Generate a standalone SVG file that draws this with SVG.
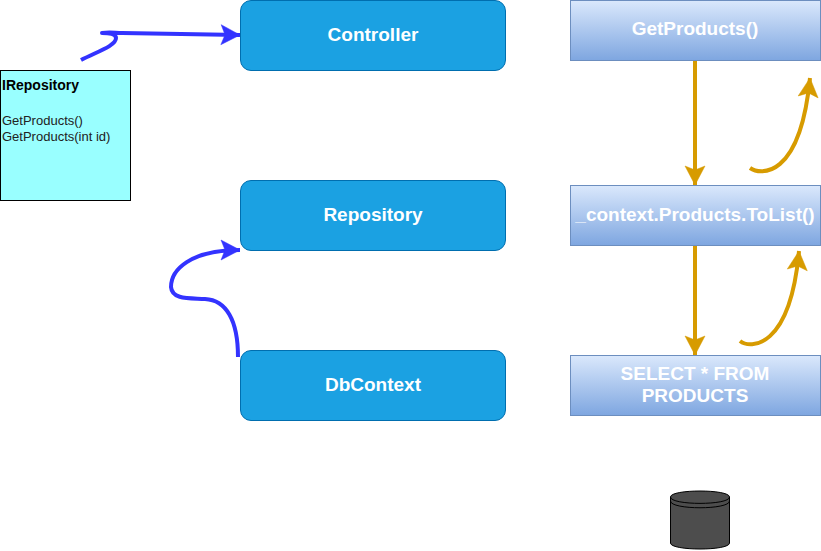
<svg xmlns="http://www.w3.org/2000/svg" width="821" height="551" viewBox="0 0 821 551">
<style>
text{font-family:"Liberation Sans",Arial,sans-serif}
.blue{fill:#1ba1e2;stroke:#006eaf}
.grad{fill:url(#g);stroke:#6c8ebf}
.w{fill:#fff;font-weight:bold;font-size:19px;text-anchor:middle}
.t{font-size:13px;fill:#222}
.con{fill:none;stroke-width:4;stroke-linejoin:round}
.b{stroke:#3333ff}
.o{stroke:#d79b00}
</style>
<defs>
<linearGradient id="g" x1="0" y1="0" x2="0" y2="1"><stop offset="0" stop-color="#dae8fc"/><stop offset="1" stop-color="#7ea6e0"/></linearGradient>
<marker id="ab" markerUnits="userSpaceOnUse" markerWidth="24" markerHeight="24" refX="20" refY="12" orient="auto" overflow="visible"><path d="M1 2L20 12L1 22L5 12Z" fill="#3333ff" stroke="#3333ff" stroke-width="0.500"/></marker>
<marker id="ao" markerUnits="userSpaceOnUse" markerWidth="24" markerHeight="24" refX="20" refY="12" orient="auto" overflow="visible"><path d="M1 2L20 12L1 22L5 12Z" fill="#d79b00" stroke="#d79b00" stroke-width="0.500"/></marker>
</defs>
<g id="connectors">
<path class="con b" marker-end="url(#ab)" d="M81 60C96 52 116 46 116 38C116 34 108 33 102 33C110 32 115 33 122 33L240 35"/>
<path class="con b" marker-end="url(#ab)" d="M238 357C238 320 226 300 205 299C190 298 172 300 171 287C171 270 190 250 240 250"/>
<path class="con o" marker-end="url(#ao)" d="M695 61V185"/>
<path class="con o" marker-end="url(#ao)" d="M750 168C760 175 800 180 810 78"/>
<path class="con o" marker-end="url(#ao)" d="M695 246V355"/>
<path class="con o" marker-end="url(#ao)" d="M740 341C750 349 790 350 799 251"/>
</g>
<g id="irepository"><rect x="0.500" y="70.500" width="130" height="130" fill="#99ffff" stroke="#000"/>
<text class="t" x="2" y="90" font-weight="bold" style="font-size:14px;fill:#000">IRepository</text>
<text class="t" x="2" y="125">GetProducts()</text><text class="t" x="2" y="141">GetProducts(int id)</text></g>
<g id="controller"><rect class="blue" x="240.500" y="0.500" width="265" height="70" rx="10.500"/><text class="w" x="373" y="41">Controller</text></g>
<g id="repository"><rect class="blue" x="240.500" y="180.500" width="265" height="70" rx="10.500"/><text class="w" x="373" y="221">Repository</text></g>
<g id="dbcontext"><rect class="blue" x="240.500" y="350.500" width="265" height="70" rx="10.500"/><text class="w" x="373" y="391">DbContext</text></g>
<g id="getproducts"><rect class="grad" x="570.500" y="0.500" width="250" height="60"/><text class="w" x="695" y="35">GetProducts()</text></g>
<g id="tolist"><rect class="grad" x="570.500" y="185.500" width="250" height="60"/><text class="w" x="695" y="221">_context.Products.ToList()</text></g>
<g id="select"><rect class="grad" x="570.500" y="355.500" width="250" height="60"/><text class="w" x="695" y="380">SELECT * FROM</text><text class="w" x="695" y="402">PRODUCTS</text></g>
<g id="database" fill="#4d4d4d" stroke="#000"><path d="M670.500 497C670.500 489 729.500 489 729.500 497V543C729.500 551 670.500 551 670.500 543Z"/><path fill="none" d="M670.500 497C670.500 505.500 729.500 505.500 729.500 497M670.500 501C670.500 510 729.500 510 729.500 501"/></g>
</svg>
